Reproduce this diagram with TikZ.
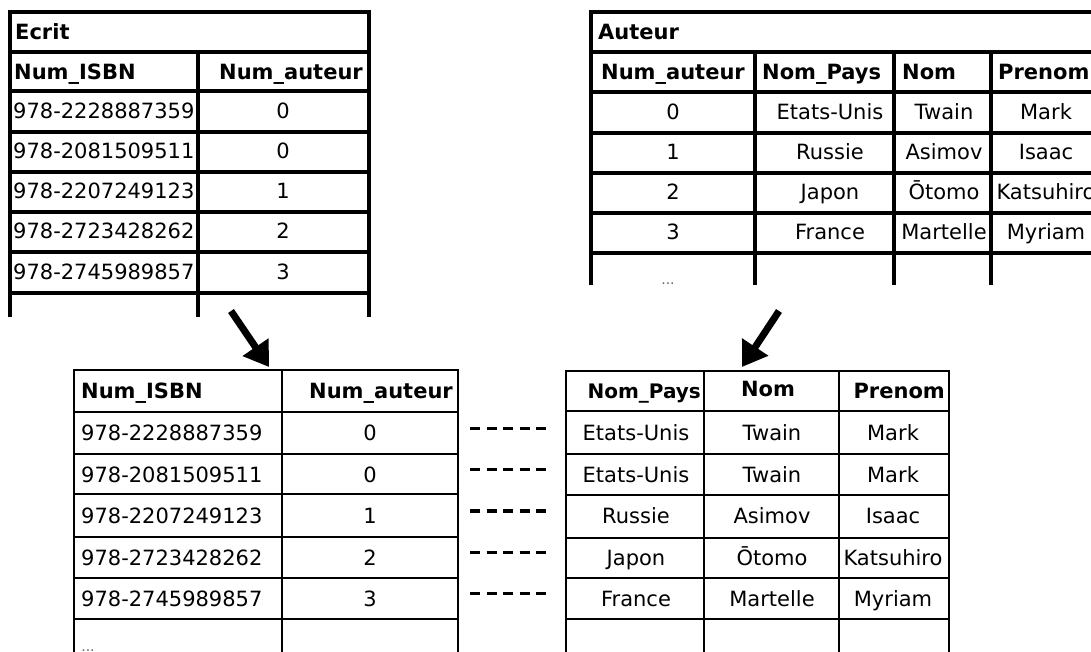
\documentclass[tikz,border=0pt]{standalone}
\usepackage{fontspec}
\setmainfont{DejaVu Sans}
\usetikzlibrary{arrows.meta}

\begin{document}
\begin{tikzpicture}[x=1pt, y=-1pt, every node/.style={font=\fontsize{21}{25}\selectfont, inner sep=0pt, text height=15pt, text depth=0pt}]
  \tikzset{rule/.style={line width=3.4pt}, thinrule/.style={line width=2.9pt},
    hd/.style={font=\fontsize{21}{25}\selectfont\bfseries},
    more/.style={font=\fontsize{14}{15}\selectfont, text=gray!80!black},
    link/.style={line width=3.4pt, dash pattern=on 10pt off 6.5pt},
    bigarrow/.style={line width=7pt, -{Triangle[length=24pt, width=30pt]}}}
  \useasboundingbox (0,0) rectangle (1091,652);
  \clip (0,0) rectangle (1091,652);

  % table Ecrit
  \draw[rule] (10,317) -- (10,12) -- (369,12) -- (369,317);
  \draw[rule] (198,52) -- (198,317);
  \foreach \y in {52,91,132,172,212,252,293}
    \draw[rule] (10,\y) -- (369,\y);
  \node[hd, anchor=west] (ecrit) at (15,32) {Ecrit};
  \node[hd, anchor=west] (ecritisbn) at (14,72) {Num\_ISBN};
  \node[hd, anchor=east] (ecritnum) at (363,72) {Num\_auteur};
  \foreach \isbn/\num [count=\i] in {2228887359/0, 2081509511/0, 2207249123/1, 2723428262/2, 2745989857/3} {
    \node[anchor=west] (ei\i) at (13,{71.5+40*\i}) {978-\isbn};
    \node (ea\i) at (283,{71.5+40*\i}) {\num};
  }

  % table Auteur
  \draw[rule] (591,285) -- (591,12) -- (1110,12) -- (1110,285);
  \foreach \x in {755,894,991}
    \draw[rule] (\x,52) -- (\x,285);
  \foreach \y in {52,92,133,173,213,253}
    \draw[rule] (591,\y) -- (1110,\y);
  \node[hd, anchor=west] (auteur) at (598,32) {Auteur};
  \node[hd] (autnum) at (673,72) {Num\_auteur};
  \node[hd, anchor=west] (autpays) at (762,72) {Nom\_Pays};
  \node[hd, anchor=west] (autnom) at (902,72) {Nom};
  \node[hd, anchor=west] (autprenom) at (998,72) {Prenom};
  \foreach \num/\pays/\nom/\prenom [count=\i] in {0/Etats-Unis/Twain/Mark, 1/Russie/Asimov/Isaac, 2/Japon/Ōtomo/Katsuhiro, 3/France/Martelle/Myriam} {
    \node (an\i) at (673,{72.5+40*\i}) {\num};
    \node (ap\i) at (830,{72.5+40*\i}) {\pays};
    \node (ao\i) at (944,{72.5+40*\i}) {\nom};
    \node (ar\i) at (1046,{72.5+40*\i}) {\prenom};
  }
  \node[more, anchor=base] (autmore) at (668,284) {...};

  % join, left part
  \draw[thinrule] (74,660) -- (74,370) -- (458,370) -- (458,660);
  \draw[thinrule] (282,370) -- (282,660);
  \foreach \y in {412,454,494,537,578,619}
    \draw[thinrule] (74,\y) -- (458,\y);
  \node[hd, anchor=west] (joinisbn) at (81,391) {Num\_ISBN};
  \node[hd, anchor=east] (joinnum) at (453,391) {Num\_auteur};
  \foreach \isbn/\num [count=\i] in {2228887359/0, 2081509511/0, 2207249123/1, 2723428262/2, 2745989857/3} {
    \node[anchor=west] (ji\i) at (81,{391.5+41.5*\i}) {978-\isbn};
    \node (ja\i) at (370,{391.5+41.5*\i}) {\num};
  }
  \node[more, anchor=base] (joinmore) at (88,651) {...};

  % join, right part
  \draw[thinrule] (566,660) -- (566,371) -- (949,371) -- (949,660);
  \foreach \x in {704,839}
    \draw[thinrule] (\x,371) -- (\x,660);
  \foreach \y in {411,454,495,538,578,619}
    \draw[thinrule] (566,\y) -- (949,\y);
  \node[hd, font=\fontsize{20}{24}\selectfont\bfseries, anchor=east] (joinpays) at (701,391) {Nom\_Pays};
  \node[hd] (joinnom) at (768,389) {Nom};
  \node[hd, anchor=east] (joinprenom) at (945,391) {Prenom};
  \foreach \pays/\nom/\prenom [count=\i] in {Etats-Unis/Twain/Mark, Etats-Unis/Twain/Mark, Russie/Asimov/Isaac, Japon/Ōtomo/Katsuhiro, France/Martelle/Myriam} {
    \node (jp\i) at (636,{391.5+41.5*\i}) {\pays};
    \node (jo\i) at (772,{391.5+41.5*\i}) {\nom};
    \node (jr\i) at (893,{391.5+41.5*\i}) {\prenom};
  }

  % dashed links between the two parts
  \foreach \i in {1,...,5} {
    \coordinate (ls\i) at (470,{387+41.3*\i});
    \coordinate (le\i) at (546,{387+41.3*\i});
    \draw[link] (ls\i) -- (le\i);
  }

  % arrows
  \coordinate (ecritout) at (231,311);
  \coordinate (joinleft) at (269,367);
  \coordinate (auteurout) at (779,311);
  \coordinate (joinright) at (742,367);
  \draw[bigarrow] (ecritout) -- (joinleft);
  \draw[bigarrow] (auteurout) -- (joinright);
\end{tikzpicture}
\end{document}
